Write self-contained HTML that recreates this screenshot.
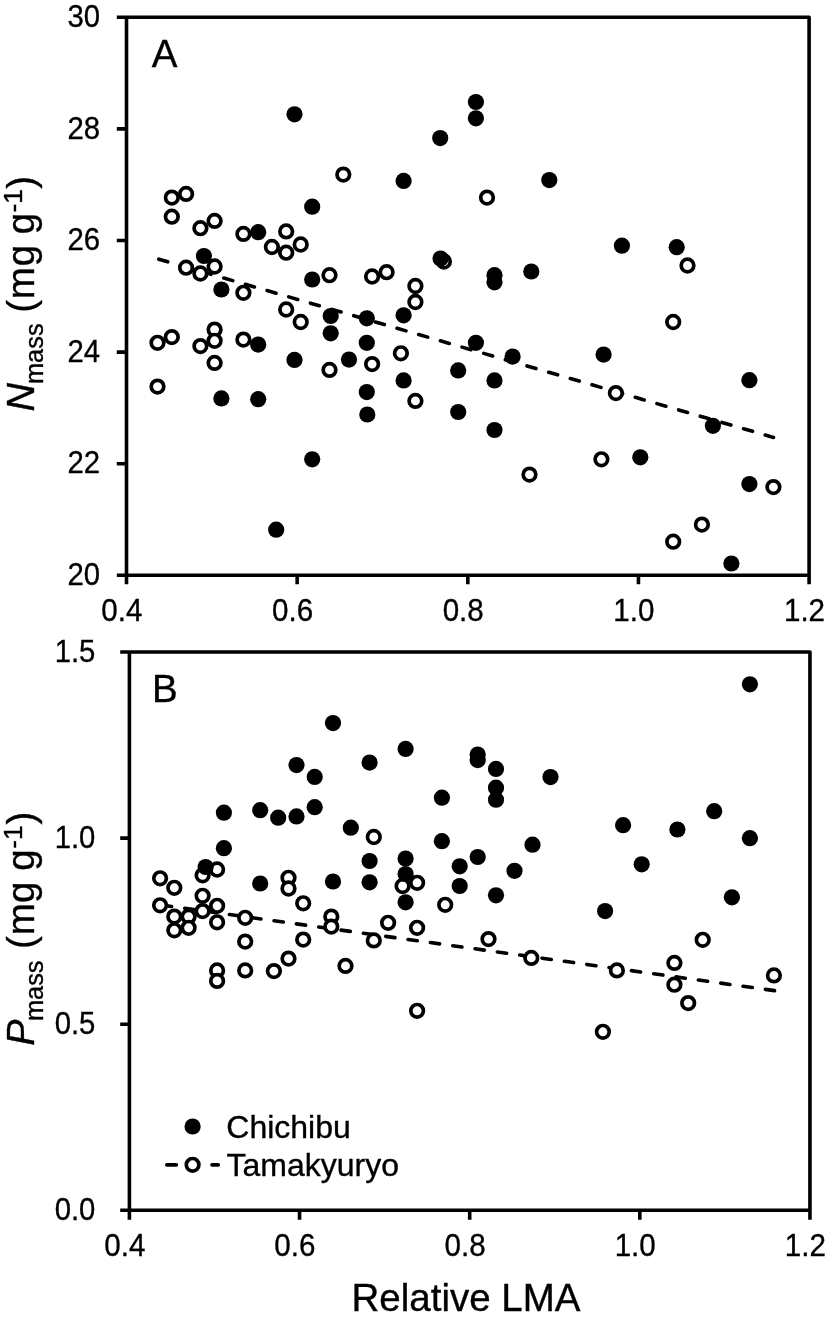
<!DOCTYPE html>
<html lang="en"><head><meta charset="utf-8"><title>Nmass and Pmass vs Relative LMA</title>
<style>html,body{margin:0;padding:0;background:#fff}svg{display:block}text{font-family:"Liberation Sans",sans-serif;fill:#000;stroke:#000;stroke-width:.35px}</style>
</head><body>
<svg width="827" height="1324" viewBox="0 0 827 1324">
<rect x="0" y="0" width="827" height="1324" fill="#fff"/>
<line x1="158.83" y1="259.2" x2="773.47" y2="437.4" stroke="#000" stroke-width="3.6" stroke-dasharray="9.3 13.25" stroke-linecap="round"/>
<g fill="#fff" stroke="#000" stroke-width="3.7">
<circle cx="171.8" cy="197.6" r="6.3"/>
<circle cx="186.1" cy="193.9" r="6.3"/>
<circle cx="171.8" cy="216.7" r="6.3"/>
<circle cx="200.4" cy="228.2" r="6.3"/>
<circle cx="214.6" cy="220.9" r="6.3"/>
<circle cx="243.4" cy="233.9" r="6.3"/>
<circle cx="286.2" cy="231.4" r="6.3"/>
<circle cx="271.9" cy="247" r="6.3"/>
<circle cx="286.2" cy="252.7" r="6.3"/>
<circle cx="300.7" cy="244.5" r="6.3"/>
<circle cx="186.1" cy="267.7" r="6.3"/>
<circle cx="200.4" cy="273.5" r="6.3"/>
<circle cx="214.6" cy="266.5" r="6.3"/>
<circle cx="243.4" cy="292.8" r="6.3"/>
<circle cx="286.2" cy="309.5" r="6.3"/>
<circle cx="300.7" cy="322" r="6.3"/>
<circle cx="214.6" cy="329.6" r="6.3"/>
<circle cx="214.6" cy="340.8" r="6.3"/>
<circle cx="171.8" cy="337.1" r="6.3"/>
<circle cx="157.5" cy="342.8" r="6.3"/>
<circle cx="200.4" cy="346.1" r="6.3"/>
<circle cx="243.4" cy="339.6" r="6.3"/>
<circle cx="214.6" cy="362.9" r="6.3"/>
<circle cx="157.5" cy="386.6" r="6.3"/>
<circle cx="329.5" cy="275.2" r="6.3"/>
<circle cx="329.5" cy="369.9" r="6.3"/>
<circle cx="343.3" cy="174.6" r="6.3"/>
<circle cx="487" cy="197.6" r="6.3"/>
<circle cx="443.9" cy="261.5" r="6.3"/>
<circle cx="372.1" cy="276.5" r="6.3"/>
<circle cx="386.6" cy="272.2" r="6.3"/>
<circle cx="415.4" cy="286" r="6.3"/>
<circle cx="415.4" cy="302" r="6.3"/>
<circle cx="400.9" cy="353.3" r="6.3"/>
<circle cx="372.1" cy="364.1" r="6.3"/>
<circle cx="415.4" cy="400.9" r="6.3"/>
<circle cx="687.5" cy="265.5" r="6.3"/>
<circle cx="673.2" cy="322" r="6.3"/>
<circle cx="615.9" cy="393.1" r="6.3"/>
<circle cx="773.4" cy="487.1" r="6.3"/>
<circle cx="701.9" cy="524.6" r="6.3"/>
<circle cx="529.5" cy="474.6" r="6.3"/>
<circle cx="601.4" cy="459.3" r="6.3"/>
<circle cx="673.2" cy="541.7" r="6.3"/>
</g>
<g fill="#000">
<circle cx="294.5" cy="114.3" r="8.1"/>
<circle cx="312.2" cy="206.7" r="8.1"/>
<circle cx="258.2" cy="232.2" r="8.1"/>
<circle cx="203.9" cy="256" r="8.1"/>
<circle cx="312.2" cy="279.5" r="8.1"/>
<circle cx="221.4" cy="289.5" r="8.1"/>
<circle cx="258.2" cy="344.6" r="8.1"/>
<circle cx="294.5" cy="359.9" r="8.1"/>
<circle cx="221.4" cy="398.4" r="8.1"/>
<circle cx="258.2" cy="399.2" r="8.1"/>
<circle cx="330.7" cy="316" r="8.1"/>
<circle cx="330.7" cy="333.3" r="8.1"/>
<circle cx="475.9" cy="102" r="8.1"/>
<circle cx="475.9" cy="118.3" r="8.1"/>
<circle cx="440.2" cy="138.1" r="8.1"/>
<circle cx="403.6" cy="180.9" r="8.1"/>
<circle cx="440.6" cy="258.6" r="8.1"/>
<circle cx="494.5" cy="275.2" r="8.1"/>
<circle cx="494.5" cy="282.3" r="8.1"/>
<circle cx="366.8" cy="318.3" r="8.1"/>
<circle cx="403.6" cy="315.3" r="8.1"/>
<circle cx="366.8" cy="342.8" r="8.1"/>
<circle cx="475.9" cy="342.8" r="8.1"/>
<circle cx="349" cy="359.6" r="8.1"/>
<circle cx="512.6" cy="356.6" r="8.1"/>
<circle cx="458.2" cy="370.4" r="8.1"/>
<circle cx="403.6" cy="380.4" r="8.1"/>
<circle cx="494.5" cy="380.4" r="8.1"/>
<circle cx="366.8" cy="392.1" r="8.1"/>
<circle cx="367.3" cy="414.5" r="8.1"/>
<circle cx="458.2" cy="412" r="8.1"/>
<circle cx="494.5" cy="430" r="8.1"/>
<circle cx="549.3" cy="180.1" r="8.1"/>
<circle cx="621.9" cy="245.7" r="8.1"/>
<circle cx="676.7" cy="247.2" r="8.1"/>
<circle cx="531.3" cy="271.5" r="8.1"/>
<circle cx="603.6" cy="354.6" r="8.1"/>
<circle cx="749.4" cy="380.2" r="8.1"/>
<circle cx="712.9" cy="425.8" r="8.1"/>
<circle cx="640.3" cy="457.3" r="8.1"/>
<circle cx="749.4" cy="484.1" r="8.1"/>
<circle cx="312.2" cy="459.3" r="8.1"/>
<circle cx="276.2" cy="529.7" r="8.1"/>
<circle cx="731.4" cy="563.5" r="8.1"/>
</g>
<path d="M126.5 17.3H809.1V575.3H126.5ZM116.8 17.3H126.5M116.8 128.9H126.5M116.8 240.5H126.5M116.8 352.1H126.5M116.8 463.7H126.5M116.8 575.3H126.5M126.5 575.3V584.3M297.15 575.3V584.3M467.8 575.3V584.3M638.45 575.3V584.3M809.1 575.3V584.3" fill="none" stroke="#000" stroke-width="3.6" stroke-linejoin="round"/>
<text transform="translate(100 26.9) scale(0.915 1)" font-size="32" text-anchor="end">30</text>
<text transform="translate(100 138.5) scale(0.915 1)" font-size="32" text-anchor="end">28</text>
<text transform="translate(100 250.1) scale(0.915 1)" font-size="32" text-anchor="end">26</text>
<text transform="translate(100 361.7) scale(0.915 1)" font-size="32" text-anchor="end">24</text>
<text transform="translate(100 473.3) scale(0.915 1)" font-size="32" text-anchor="end">22</text>
<text transform="translate(100 584.9) scale(0.915 1)" font-size="32" text-anchor="end">20</text>
<text transform="translate(121.9 620.8) scale(0.925 1)" font-size="32" text-anchor="middle">0.4</text>
<text transform="translate(292.55 620.8) scale(0.925 1)" font-size="32" text-anchor="middle">0.6</text>
<text transform="translate(463.2 620.8) scale(0.925 1)" font-size="32" text-anchor="middle">0.8</text>
<text transform="translate(633.85 620.8) scale(0.925 1)" font-size="32" text-anchor="middle">1.0</text>
<text transform="translate(804.5 620.8) scale(0.925 1)" font-size="32" text-anchor="middle">1.2</text>
<text x="151.8" y="67.3" font-size="38.5">A</text>
<text transform="translate(34 411.6) rotate(-90)" font-size="38.5"><tspan font-style="italic" font-size="39.5">N</tspan><tspan font-size="25.4" dy="8.8" dx="-1">mass</tspan><tspan dy="-8.8" dx="0"> (</tspan><tspan dx="0.5">m</tspan><tspan dx="1.0">g</tspan><tspan dx="0"> g</tspan><tspan font-size="26.4" dy="-12" dx="0.2">-1</tspan><tspan dy="12" dx="0.4">)</tspan></text>
<line x1="162.38" y1="905.15" x2="774.52" y2="990.65" stroke="#000" stroke-width="3.6" stroke-dasharray="9.3 13.25" stroke-linecap="round"/>
<g fill="#fff" stroke="#000" stroke-width="3.7">
<circle cx="160.1" cy="878.3" r="6.3"/>
<circle cx="174.3" cy="887.8" r="6.3"/>
<circle cx="202.6" cy="875.3" r="6.3"/>
<circle cx="217.1" cy="869.5" r="6.3"/>
<circle cx="288.5" cy="877.8" r="6.3"/>
<circle cx="288.5" cy="888.5" r="6.3"/>
<circle cx="202.6" cy="895.8" r="6.3"/>
<circle cx="303.2" cy="903.3" r="6.3"/>
<circle cx="160.1" cy="905.3" r="6.3"/>
<circle cx="217.1" cy="905.8" r="6.3"/>
<circle cx="202.6" cy="911.1" r="6.3"/>
<circle cx="174.3" cy="916.6" r="6.3"/>
<circle cx="188.6" cy="916.6" r="6.3"/>
<circle cx="217.1" cy="922.3" r="6.3"/>
<circle cx="245.2" cy="917.8" r="6.3"/>
<circle cx="174.3" cy="930.3" r="6.3"/>
<circle cx="188.6" cy="927.8" r="6.3"/>
<circle cx="245.2" cy="941.6" r="6.3"/>
<circle cx="303.2" cy="939.6" r="6.3"/>
<circle cx="288.5" cy="958.6" r="6.3"/>
<circle cx="217.1" cy="970.4" r="6.3"/>
<circle cx="217.1" cy="980.9" r="6.3"/>
<circle cx="245.2" cy="970.4" r="6.3"/>
<circle cx="273.9" cy="971.1" r="6.3"/>
<circle cx="373.8" cy="837" r="6.3"/>
<circle cx="402.6" cy="886" r="6.3"/>
<circle cx="417.1" cy="882.8" r="6.3"/>
<circle cx="445.2" cy="904.8" r="6.3"/>
<circle cx="331.3" cy="916.6" r="6.3"/>
<circle cx="331.3" cy="926.6" r="6.3"/>
<circle cx="388.1" cy="922.8" r="6.3"/>
<circle cx="417.1" cy="927.8" r="6.3"/>
<circle cx="373.8" cy="940.4" r="6.3"/>
<circle cx="488.5" cy="939.1" r="6.3"/>
<circle cx="345.5" cy="965.9" r="6.3"/>
<circle cx="531.3" cy="957.9" r="6.3"/>
<circle cx="616.9" cy="970.4" r="6.3"/>
<circle cx="702.7" cy="939.8" r="6.3"/>
<circle cx="674.4" cy="962.9" r="6.3"/>
<circle cx="674.4" cy="984.7" r="6.3"/>
<circle cx="773.9" cy="975.4" r="6.3"/>
<circle cx="417.1" cy="1010.8" r="6.3"/>
<circle cx="688.2" cy="1003.1" r="6.3"/>
<circle cx="602.9" cy="1031.8" r="6.3"/>
</g>
<g fill="#000">
<circle cx="296.5" cy="765.1" r="8.1"/>
<circle cx="314.7" cy="776.9" r="8.1"/>
<circle cx="223.9" cy="812.7" r="8.1"/>
<circle cx="260.2" cy="810.2" r="8.1"/>
<circle cx="278.2" cy="817.7" r="8.1"/>
<circle cx="296.5" cy="816.4" r="8.1"/>
<circle cx="314.7" cy="807.2" r="8.1"/>
<circle cx="223.9" cy="848.2" r="8.1"/>
<circle cx="205.6" cy="867" r="8.1"/>
<circle cx="260.2" cy="883.5" r="8.1"/>
<circle cx="333" cy="723.1" r="8.1"/>
<circle cx="405.6" cy="748.9" r="8.1"/>
<circle cx="369.6" cy="762.6" r="8.1"/>
<circle cx="477.7" cy="754.6" r="8.1"/>
<circle cx="477.7" cy="760.1" r="8.1"/>
<circle cx="496" cy="768.9" r="8.1"/>
<circle cx="496" cy="787.7" r="8.1"/>
<circle cx="496" cy="799.7" r="8.1"/>
<circle cx="441.9" cy="797.7" r="8.1"/>
<circle cx="350.8" cy="827.7" r="8.1"/>
<circle cx="441.9" cy="841.2" r="8.1"/>
<circle cx="369.6" cy="861" r="8.1"/>
<circle cx="405.6" cy="858.5" r="8.1"/>
<circle cx="477.7" cy="857" r="8.1"/>
<circle cx="459.7" cy="866.3" r="8.1"/>
<circle cx="514.5" cy="870.8" r="8.1"/>
<circle cx="405.6" cy="874" r="8.1"/>
<circle cx="333" cy="881.5" r="8.1"/>
<circle cx="369.6" cy="882.3" r="8.1"/>
<circle cx="459.7" cy="886" r="8.1"/>
<circle cx="496" cy="895.3" r="8.1"/>
<circle cx="405.6" cy="902.3" r="8.1"/>
<circle cx="550.5" cy="777.1" r="8.1"/>
<circle cx="532.5" cy="844.7" r="8.1"/>
<circle cx="623.1" cy="825.2" r="8.1"/>
<circle cx="677.4" cy="829.5" r="8.1"/>
<circle cx="714.2" cy="811.2" r="8.1"/>
<circle cx="641.7" cy="864.3" r="8.1"/>
<circle cx="605.1" cy="911.1" r="8.1"/>
<circle cx="749.9" cy="684.3" r="8.1"/>
<circle cx="749.9" cy="838.2" r="8.1"/>
<circle cx="731.9" cy="897.3" r="8.1"/>
</g>
<path d="M129.4 652H809.95V1210.3H129.4ZM120.2 652H129.4M120.2 838.1H129.4M120.2 1024.2H129.4M120.2 1210.3H129.4M129.4 1210.3V1219.8M299.54 1210.3V1219.8M469.68 1210.3V1219.8M639.81 1210.3V1219.8M809.95 1210.3V1219.8" fill="none" stroke="#000" stroke-width="3.6" stroke-linejoin="round"/>
<text transform="translate(95.4 661.6) scale(0.915 1)" font-size="32" text-anchor="end">1.5</text>
<text transform="translate(95.4 847.7) scale(0.915 1)" font-size="32" text-anchor="end">1.0</text>
<text transform="translate(95.4 1033.8) scale(0.915 1)" font-size="32" text-anchor="end">0.5</text>
<text transform="translate(95.4 1219.9) scale(0.915 1)" font-size="32" text-anchor="end">0.0</text>
<text transform="translate(124.8 1255.8) scale(0.925 1)" font-size="32" text-anchor="middle">0.4</text>
<text transform="translate(294.94 1255.8) scale(0.925 1)" font-size="32" text-anchor="middle">0.6</text>
<text transform="translate(465.08 1255.8) scale(0.925 1)" font-size="32" text-anchor="middle">0.8</text>
<text transform="translate(635.21 1255.8) scale(0.925 1)" font-size="32" text-anchor="middle">1.0</text>
<text transform="translate(805.35 1255.8) scale(0.925 1)" font-size="32" text-anchor="middle">1.2</text>
<text x="152" y="701.6" font-size="38.5">B</text>
<text transform="translate(34 1045.8) rotate(-90)" font-size="38.5"><tspan font-style="italic" font-size="39.5">P</tspan><tspan font-size="25.4" dy="8.8" dx="-1.67">mass</tspan><tspan dy="-8.8" dx="0.8"> (</tspan><tspan dx="0.75">m</tspan><tspan dx="0.2">g</tspan><tspan dx="0.1"> g</tspan><tspan font-size="26.4" dy="-12" dx="0.7">-1</tspan><tspan dy="12" dx="0.9">)</tspan></text>
<circle cx="192.6" cy="1126.5" r="8.1" fill="#000"/>
<path d="M166.9 1164.8H176.3M212.1 1164.8H218.2" stroke="#000" stroke-width="3.8" stroke-linecap="round" fill="none"/>
<circle cx="192.6" cy="1164.8" r="6.3" fill="#fff" stroke="#000" stroke-width="3.7"/>
<text x="226.3" y="1137.6" font-size="32">Chichibu</text>
<text x="226.5" y="1175.8" font-size="32">Tamakyuryo</text>
<text x="466" y="1310.5" font-size="38.5" text-anchor="middle">Relative LMA</text>
</svg>
</body></html>
